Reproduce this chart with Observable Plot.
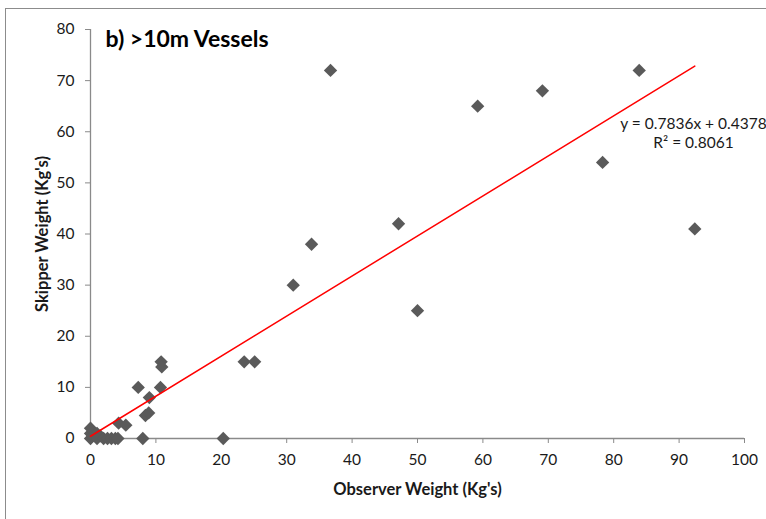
<!DOCTYPE html>
<html>
<head>
<meta charset="utf-8">
<script src="https://cdn.jsdelivr.net/npm/d3@7"></script>
<script src="https://cdn.jsdelivr.net/npm/@observablehq/plot@0.6"></script>
<style>
  html, body { margin: 0; padding: 0; background: #fff; overflow: hidden; }
  #wrap { position: relative; width: 766px; height: 519px; overflow: hidden; }
  #border { position: absolute; left: 5px; top: 8px; width: 800px; height: 560px; border: 1px solid #8c8c8c; box-sizing: border-box; }
  #chart { position: absolute; left: 0; top: 0; }
  #chart svg { overflow: visible; }
</style>
</head>
<body>
<div id="wrap">
  <div id="border"></div>
  <div id="chart"></div>
</div>
<script>
// Observer vs skipper catch weights for vessels over 10 m
const observerKg = [0, 0, 0, 0.3, 1, 1.5, 1, 2, 2.6, 3.2, 3.8, 4.2, 4.3, 5.4,
  7.3, 8.0, 8.4, 8.9, 9.0, 10.7, 10.8, 10.9, 20.3, 23.5, 25.1, 31.0, 33.8,
  36.7, 47.1, 50.0, 59.2, 69.1, 78.3, 83.9, 92.4];
const skipperKg = [0, 1, 2, 0.5, 1, 0.5, 0, 0, 0, 0, 0, 0, 3, 2.6,
  10, 0, 4.5, 5, 8, 10, 15, 14, 0, 15, 15, 30, 38,
  72, 42, 25, 65, 68, 54, 72, 41];

// Linear trendline as reported
const slope = 0.7836;
const intercept = 0.4378;
const rSquared = 0.8061;

const xTicks = [0, 10, 20, 30, 40, 50, 60, 70, 80, 90, 100];
const yTicks = [0, 10, 20, 30, 40, 50, 60, 70, 80];

const points = observerKg.map((x, i) => ({x, y: skipperKg[i]}));
const xMax = d3.max(observerKg);
const trend = [0, xMax].map(x => ({x, y: slope * x + intercept}));
const eqLabel = `y = ${slope}x + ${intercept}\nR² = ${rSquared}`;

const font = "Lato, 'Open Sans', sans-serif";
const axisGray = "#8a8a8a";

const chart = Plot.plot({
  width: 766,
  height: 519,
  marginLeft: 90,
  marginRight: 22,
  marginTop: 29,
  marginBottom: 81,
  style: {fontFamily: font, fontSize: "15px", color: "#1a1a1a", background: "transparent"},
  x: {domain: [0, 100], ticks: xTicks},
  y: {domain: [0, 80], ticks: yTicks},
  marks: [
    Plot.ruleY([0], {stroke: axisGray, strokeWidth: 1.3}),
    Plot.ruleX([0], {stroke: axisGray, strokeWidth: 1.3}),
    Plot.axisX({ticks: xTicks, tickSize: 5, tickPadding: 10, stroke: axisGray, fontSize: 15.5, label: null, tickFormat: d => d}),
    Plot.axisY({ticks: yTicks, tickSize: 5, tickPadding: 11, stroke: axisGray, fontSize: 15.5, label: null, tickFormat: d => d}),
    Plot.text(["Observer Weight (Kg's)"], {frameAnchor: "bottom", dy: 56, fontWeight: "bold", fontSize: 16.5, fill: "#1a1a1a"}),
    Plot.text(["Skipper Weight (Kg's)"], {frameAnchor: "left", dx: -48, rotate: -90, textAnchor: "middle", fontWeight: "bold", fontSize: 16.5, fill: "#1a1a1a"}),
    Plot.text(["b) >10m Vessels"], {frameAnchor: "top-left", dx: 15, dy: 1, textAnchor: "start", fontWeight: "bold", fontSize: 23, fill: "#000"}),
    Plot.dot(points, {x: "x", y: "y", symbol: "diamond2", r: 6, fill: "#5a5a5a", stroke: "none"}),
    Plot.line(trend, {x: "x", y: "y", stroke: "#ff0000", strokeWidth: 1.5}),
    Plot.text([eqLabel], {x: () => 92.2, y: () => 59.8, text: d => d, fontSize: 15.5, fill: "#1a1a1a", lineHeight: 1.22})
  ]
});
document.getElementById("chart").appendChild(chart);
</script>
</body>
</html>
